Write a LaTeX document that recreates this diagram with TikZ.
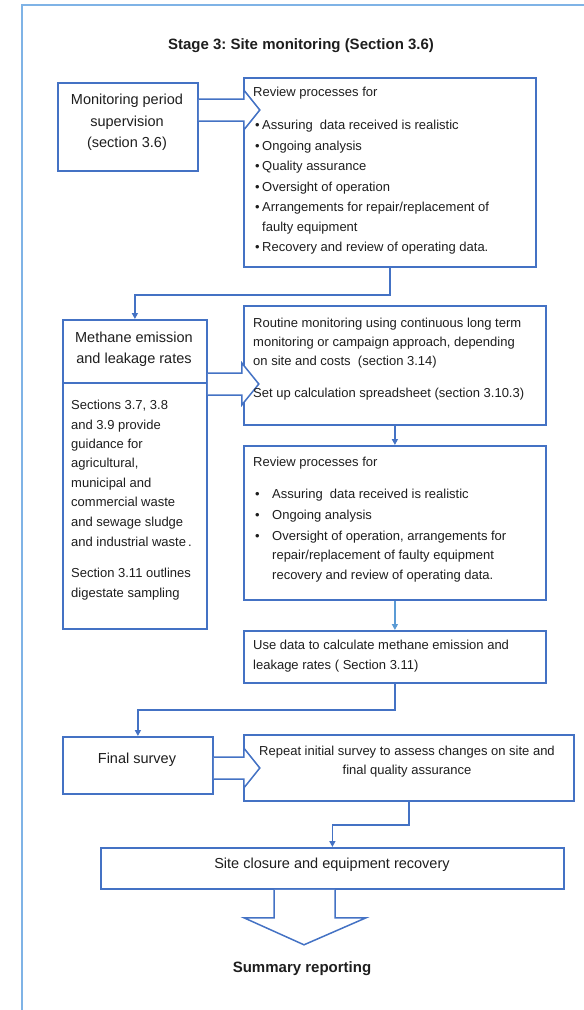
\documentclass[tikz,border=0pt]{standalone}
\usepackage{fontspec}
\setmainfont{Liberation Sans}
\usetikzlibrary{arrows.meta,calc}
\frenchspacing
\definecolor{boxblue}{HTML}{4472C4}
\definecolor{lightblue}{HTML}{5B9BD5}
\definecolor{framblue}{HTML}{7FB3E6}
\definecolor{ink}{HTML}{1E1E1E}
\newcommand\ftxt{\fontsize{13}{16}\selectfont}
\newcommand\fhd{\fontsize{14.5}{17}\selectfont}
\newcommand\fttl{\fontsize{15}{18}\selectfont\bfseries}
\newcommand\bul{\makebox[7pt][l]{•}}
\newcommand\bulw{\makebox[17pt][l]{•}}
\tikzset{
  box/.style={draw=boxblue, line width=1.8pt, fill=white, rectangle, inner sep=0pt, anchor=north west},
  conn/.style={draw=boxblue, line width=1.6pt, -{Triangle[length=6pt,width=6pt]}},
  connlt/.style={draw=lightblue, line width=1.3pt, -{Triangle[length=6pt,width=6pt]}},
  blk/.style={draw=boxblue, line width=1.5pt, fill=white, line join=miter},
  tl/.style={text=ink, font=\ftxt, inner sep=0pt, anchor=base west},
  tc/.style={text=ink, font=\ftxt, inner sep=0pt, anchor=base},
  hc/.style={text=ink, font=\fhd, inner sep=0pt, anchor=base},
  ttl/.style={text=ink, font=\fttl, inner sep=0pt, anchor=base},
}
\newcommand\bx[5]{\node[box, minimum width={#4-#2}, minimum height={#5-#3}] (#1) at (#2,#3) {};}
\begin{document}
\begin{tikzpicture}[x=1pt,y=-1pt]
\useasboundingbox (0,0) rectangle (584,1010);
% frame
\draw[framblue, line width=1.5pt] (22,1012) -- (22,5) -- (586,5);
% title
\node[ttl] (title) at (301,49) {Stage 3: Site monitoring (Section 3.6)};
% boxes
\bx{m1}{57}{82}{197}{170}
\bx{r1}{243}{77}{535}{266}
\bx{me}{62}{319}{206}{628}
\bx{ro}{243}{305}{545}{424}
\bx{r2}{243}{445}{545}{599}
\bx{ud}{243}{630}{545}{682}
\bx{fs}{62}{736}{212}{793}
\bx{rp}{243}{734}{573}{800}
\bx{sc}{100}{847}{563}{888}
\draw[boxblue, line width=1.8pt] ($(me.north west)+(0,64)$) -- ($(me.north east)+(0,64)$);
% connectors
\draw[conn] (r1.south) -- ++(0,27) -| (me.north);
\draw[conn] (ro.south) -- (r2.north);
\draw[connlt] (r2.south) -- (ud.north);
\draw[conn] (ud.south) -- ++(0,26) -| (fs.north);
\draw[conn] (rp.south) -- ++(0,23) -| (sc.north);
% block arrows
\draw[blk] ($(m1.north east)+(0,17)$) -- ++(45,0) -- ++(0,-9) -- ++(16,20) -- ++(-16,20) -- ++(0,-9) -- ($(m1.north east)+(0,39)$);
\draw[blk] ($(me.north east)+(0,54)$) -- ++(34,0) -- ++(0,-10) -- ++(17,21) -- ++(-17,21) -- ++(0,-10) -- ($(me.north east)+(0,76)$);
\draw[blk] ($(fs.north east)+(0,21)$) -- ++(30,0) -- ++(0,-9) -- ++(16,20) -- ++(-16,20) -- ++(0,-9) -- ($(fs.north east)+(0,43)$);
\draw[blk] ($(sc.south west)+(174,0)$) -- ++(0,28) -- ++(-30,0) -- ++(60,27) -- ++(62,-27) -- ++(-31,0) -- ++(0,-28);
% box 1 text
\node[hc] (m1a) at (127,104) {Monitoring period};
\node[hc] (m1b) at (127,126) {supervision};
\node[hc] (m1c) at (127,147) {(section 3.6)};
% review 1
\node[tl] (r1a) at (253,96) {Review processes for};
\node[tl] (r1b) at (255,129.5) {\bul Assuring~ data received is realistic};
\node[tl] (r1c) at (255,150.5) {\bul Ongoing analysis};
\node[tl] (r1d) at (255,170.5) {\bul Quality assurance};
\node[tl] (r1e) at (255,191.5) {\bul Oversight of operation};
\node[tl] (r1f) at (255,211.5) {\bul Arrangements for repair/replacement of};
\node[tl] (r1g) at (262,231.5) {faulty equipment};
\node[tl] (r1h) at (255,251.5) {\bul Recovery and review of operating data.};
% methane
\node[hc] (mea) at (134,342) {Methane emission};
\node[hc] (meb) at (134,363) {and leakage rates};
\node[tl] (mec) at (71,409.5) {Sections 3.7, 3.8};
\node[tl] (med) at (71,429.5) {and 3.9 provide};
\node[tl] (mee) at (71,448.5) {guidance for};
\node[tl] (mef) at (71,467.5) {agricultural,};
\node[tl] (meg) at (71,487.5) {municipal and};
\node[tl] (meh) at (71,506.5) {commercial waste};
\node[tl] (mei) at (71,526.5) {and sewage sludge};
\node[tl] (mej) at (71,546.5) {and industrial waste\,.};
\node[tl] (mek) at (71,577.5) {Section 3.11 outlines};
\node[tl] (mel) at (71,597.5) {digestate sampling};
% routine
\node[tl] (roa) at (253,327.5) {Routine monitoring using continuous long term};
\node[tl] (rob) at (253,346.5) {monitoring or campaign approach, depending};
\node[tl] (roc) at (253,365.5) {on site and costs~ (section 3.14)};
\node[tl] (rod) at (253,397.5) {Set up calculation spreadsheet (section 3.10.3)};
% review 2
\node[tl] (r2a) at (253,466.5) {Review processes for};
\node[tl] (r2b) at (255,498.5) {\bulw Assuring~ data received is realistic};
\node[tl] (r2c) at (255,519.5) {\bulw Ongoing analysis};
\node[tl] (r2d) at (255,540.5) {\bulw Oversight of operation, arrangements for};
\node[tl] (r2e) at (272,559.5) {repair/replacement of faulty equipment};
\node[tl] (r2f) at (272,579.5) {recovery and review of operating data.};
% use data
\node[tl] (uda) at (253,649.5) {Use data to calculate methane emission and};
\node[tl] (udb) at (253,669.5) {leakage rates ( Section 3.11)};
% final survey
\node[hc] (fsa) at (137,763) {Final survey};
\node[tc] (rpa) at (407,755.5) {Repeat initial survey to assess changes on site and};
\node[tc] (rpb) at (407,774.5) {final quality assurance};
% site closure
\node[hc] (sca) at (332,868) {Site closure and equipment recovery};
% summary
\node[ttl] (sum) at (302,972) {Summary reporting};
\end{tikzpicture}
\end{document}
